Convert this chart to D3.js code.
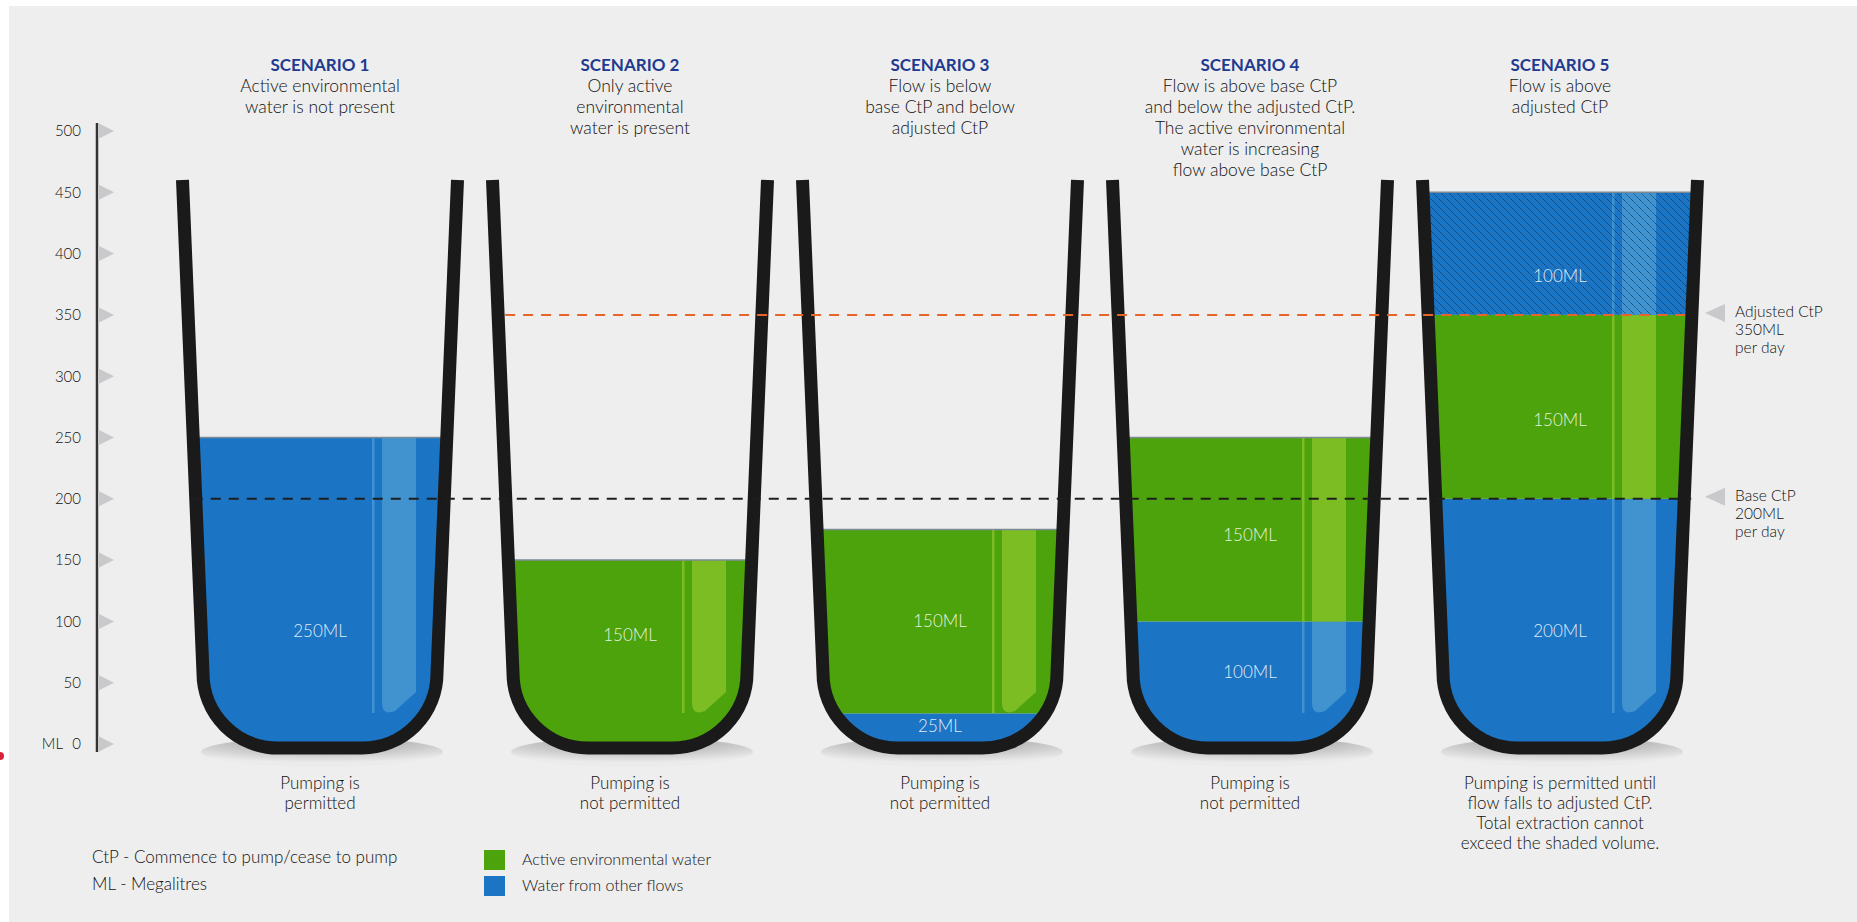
<!DOCTYPE html>
<html>
<head>
<meta charset="utf-8">
<script src="https://cdn.jsdelivr.net/npm/d3@7"></script>
<style>
  body { margin: 0; background: #fff; overflow: hidden; }
  text { font-family: Lato, "Open Sans", sans-serif; }
</style>
</head>
<body>
<script>
const width = 1857,
  height = 922;

// scenario headings and captions
const scenarios = ["SCENARIO 1", "SCENARIO 2", "SCENARIO 3", "SCENARIO 4", "SCENARIO 5"];
const headings = [
  ["Active environmental", "water is not present"],
  ["Only active", "environmental", "water is present"],
  ["Flow is below", "base CtP and below", "adjusted CtP"],
  ["Flow is above base CtP", "and below the adjusted CtP.", "The active environmental", "water is increasing", "flow above base CtP"],
  ["Flow is above", "adjusted CtP"],
];
const captions = [
  ["Pumping is", "permitted"],
  ["Pumping is", "not permitted"],
  ["Pumping is", "not permitted"],
  ["Pumping is", "not permitted"],
  ["Pumping is permitted until", "flow falls to adjusted CtP.", "Total extraction cannot", "exceed the shaded volume."],
];

// volumes in ML, stacked bottom to top
const otherFlows = [250, 0, 25, 100, 200];
const activeEnv = [0, 150, 150, 150, 150];
const shadedFlows = [0, 0, 0, 0, 100];

const baseCtP = 200,
  adjustedCtP = 350;
const ticks = [0, 50, 100, 150, 200, 250, 300, 350, 400, 450, 500];
const legendItems = ["Active environmental water", "Water from other flows"];
const notes = ["CtP - Commence to pump/cease to pump", "ML - Megalitres"];

const blue = "#1b75c4",
  green = "#4ca30c",
  ink = "#111";

const svg = d3.select("body").append("svg").attr("width", width).attr("height", height);
const defs = svg.append("defs");

svg.append("rect").attr("x", 9).attr("y", 6).attr("width", width).attr("height", height).attr("fill", "#eeeeee");
svg.append("circle").attr("cx", 0).attr("cy", 756).attr("r", 4).attr("fill", "#d8213b");

const y = d3.scaleLinear().domain([0, 500]).range([744, 131]);
const x = d3.scalePoint().domain(scenarios).range([320, 1560]);

// shadow gradient + hatch pattern
const grad = defs.append("radialGradient").attr("id", "shadow").attr("cx", "50%").attr("cy", "10%").attr("r", "75%");
grad.append("stop").attr("offset", "0%").attr("stop-color", "#939393");
grad.append("stop").attr("offset", "100%").attr("stop-color", "#ebebeb");

const hatch = defs.append("pattern").attr("id", "hatch").attr("patternUnits", "userSpaceOnUse").attr("width", 8).attr("height", 8);
hatch
  .append("path")
  .attr("d", "M-2,-2L10,10M-2,6L2,10M6,-2L10,2")
  .attr("stroke", "#0b2a4a")
  .attr("stroke-opacity", 0.75)
  .attr("stroke-width", 1)
  .attr("stroke-dasharray", "1.5 1");

// glass geometry
const yTop = y(460),
  yBot = y(0) + 4,
  r = 75;
function wallOffset(yy) {
  return 117 + (20.5 * (yBot - r - yy)) / (yBot - r - yTop);
}
function glassPath(cx) {
  return `M${cx - 137.5},${yTop}L${cx - 117},${yBot - r}A${r},${r} 0 0 0 ${cx - 117 + r},${yBot}` +
    `L${cx + 117 - r},${yBot}A${r},${r} 0 0 0 ${cx + 117},${yBot - r}L${cx + 137.5},${yTop}`;
}

// y axis
const axis = svg
  .append("g")
  .attr("transform", "translate(97,0)")
  .call(d3.axisLeft(y).tickValues(ticks).tickSize(0).tickPadding(16));
axis.select(".domain").remove();
axis.selectAll("text").attr("font-size", 15).attr("font-weight", 300).attr("fill", ink).style("font-family", "Lato, sans-serif");
svg.append("line").attr("x1", 97).attr("x2", 97).attr("y1", 123).attr("y2", 752).attr("stroke", "#333").attr("stroke-width", 2.5);
svg
  .selectAll(".tri")
  .data(ticks)
  .join("path")
  .attr("d", (d) => `M98,${y(d) - 8}L114,${y(d)}L98,${y(d) + 8}Z`)
  .attr("fill", "#c9c8ca");
svg.append("text").attr("x", 63).attr("y", y(0)).attr("dy", "0.35em").attr("text-anchor", "end").attr("font-size", 15).attr("font-weight", 300).attr("fill", ink).text("ML");

// headings
scenarios.forEach((s, i) => {
  const cx = x(s);
  const t = svg.append("text").attr("text-anchor", "middle").attr("fill", ink).attr("font-size", 17.5).attr("font-weight", 300);
  t.append("tspan").attr("x", cx).attr("y", 65).attr("dy", "0.35em").attr("font-size", 17).attr("font-weight", 700).attr("fill", "#213a8f").text(s);
  headings[i].forEach((line, j) => t.append("tspan").attr("x", cx).attr("y", 86 + j * 21).attr("dy", "0.35em").text(line));

  const c = svg.append("text").attr("text-anchor", "middle").attr("fill", ink).attr("font-size", 17).attr("font-weight", 300);
  captions[i].forEach((line, j) => c.append("tspan").attr("x", cx).attr("y", 783 + j * 20).attr("dy", "0.35em").text(line));
});

// glasses
scenarios.forEach((s, i) => {
  const cx = x(s);
  const g = svg.append("g");
  g.append("ellipse").attr("cx", cx + 2).attr("cy", 752).attr("rx", 121).attr("ry", 15).attr("fill", "url(#shadow)");

  defs.append("clipPath").attr("id", "in" + i).append("path").attr("d", glassPath(cx) + "Z");
  const inner = g.append("g").attr("clip-path", `url(#in${i})`);

  const layers = [
    { v: otherFlows[i], fill: blue, hi: "#4193d0" },
    { v: activeEnv[i], fill: green, hi: "#7dbd24" },
    { v: shadedFlows[i], fill: blue, hi: "#4193d0", hatch: true },
  ];
  let base = 0;
  const total = otherFlows[i] + activeEnv[i] + shadedFlows[i];
  const bandTop = y(total);
  const band = `M${cx + 62},${bandTop}H${cx + 96}V${692}L${cx + 75},${711}Q${cx + 62},${716} ${cx + 62},${703}Z`;

  layers.forEach((l, k) => {
    if (!l.v) return;
    const y0 = y(base + l.v),
      y1 = base === 0 ? yBot + 10 : y(base);
    const id = `ly${i}_${k}`;
    defs.append("clipPath").attr("id", id).append("rect").attr("x", cx - 160).attr("y", y0).attr("width", 320).attr("height", y1 - y0);
    inner.append("rect").attr("x", cx - 160).attr("y", y0).attr("width", 320).attr("height", y1 - y0).attr("fill", l.fill);
    const hg = inner.append("g").attr("clip-path", `url(#${id})`);
    hg.append("path").attr("d", band).attr("fill", l.hi);
    hg.append("rect").attr("x", cx + 52).attr("y", bandTop).attr("width", 2.5).attr("height", 713 - bandTop).attr("fill", l.hi);
    if (l.hatch) inner.append("rect").attr("x", cx - 160).attr("y", y0).attr("width", 320).attr("height", y1 - y0).attr("fill", "url(#hatch)");
    base += l.v;
  });
  inner.append("line").attr("x1", cx - 160).attr("x2", cx + 160).attr("y1", bandTop).attr("y2", bandTop).attr("stroke", "#7d8a96").attr("stroke-width", 1.5);

  // labels: bottom layer sits low in the bowl, upper layers drift a little under centre
  base = 0;
  layers.forEach((l) => {
    if (!l.v) return;
    let mid = base + l.v / 2;
    mid = base === 0 ? Math.min(mid * 1.18, 92) : mid - (mid - 100) * 0.06;
    svg
      .append("text")
      .attr("x", cx)
      .attr("y", y(mid))
      .attr("dy", "0.35em")
      .attr("text-anchor", "middle")
      .attr("font-size", 17)
      .attr("font-weight", 300)
      .attr("fill", "#fff")
      .attr("fill-opacity", 0.88)
      .text(`${l.v}ML`);
    base += l.v;
  });

  g.append("path")
    .attr("d", glassPath(cx))
    .attr("fill", "none")
    .attr("stroke", "#1a1a1a")
    .attr("stroke-width", 13)
    .attr("stroke-linejoin", "round");
});

// CtP dashed lines
const first = x(scenarios[0]),
  second = x(scenarios[1]),
  last = x(scenarios[4]);
svg
  .append("line")
  .attr("x1", first - wallOffset(y(baseCtP)) - 3)
  .attr("x2", last + wallOffset(y(baseCtP)) + 7)
  .attr("y1", y(baseCtP))
  .attr("y2", y(baseCtP))
  .attr("stroke", "#1e1e1e")
  .attr("stroke-width", 2)
  .attr("stroke-dasharray", "10 8");
svg
  .append("line")
  .attr("x1", second - wallOffset(y(adjustedCtP)) + 7)
  .attr("x2", last + wallOffset(y(adjustedCtP)))
  .attr("y1", y(adjustedCtP))
  .attr("y2", y(adjustedCtP))
  .attr("stroke", "#e8652a")
  .attr("stroke-width", 2)
  .attr("stroke-dasharray", "10 8");

// right-side annotations
[
  [adjustedCtP, ["Adjusted CtP", `${adjustedCtP}ML`, "per day"]],
  [baseCtP, ["Base CtP", `${baseCtP}ML`, "per day"]],
].forEach(([v, lines]) => {
  const yy = y(v) - 2;
  svg.append("path").attr("d", `M1705,${yy}L1725,${yy - 9}L1725,${yy + 9}Z`).attr("fill", "#c9c8ca");
  const t = svg.append("text").attr("font-size", 15.5).attr("font-weight", 300).attr("fill", ink);
  lines.forEach((line, j) => t.append("tspan").attr("x", 1735).attr("y", yy - 1 + j * 18).attr("dy", "0.35em").text(line));
});

// notes + legend
notes.forEach((n, j) => {
  svg.append("text").attr("x", 92).attr("y", 857 + j * 27).attr("dy", "0.35em").attr("font-size", 17).attr("font-weight", 300).attr("fill", ink).text(n);
});
legendItems.forEach((n, j) => {
  svg.append("rect").attr("x", 484).attr("y", 850 + j * 26).attr("width", 21).attr("height", 20).attr("fill", j === 0 ? green : blue);
  svg.append("text").attr("x", 522).attr("y", 859 + j * 26).attr("dy", "0.35em").attr("font-size", 16).attr("font-weight", 300).attr("fill", ink).text(n);
});
</script>
</body>
</html>
